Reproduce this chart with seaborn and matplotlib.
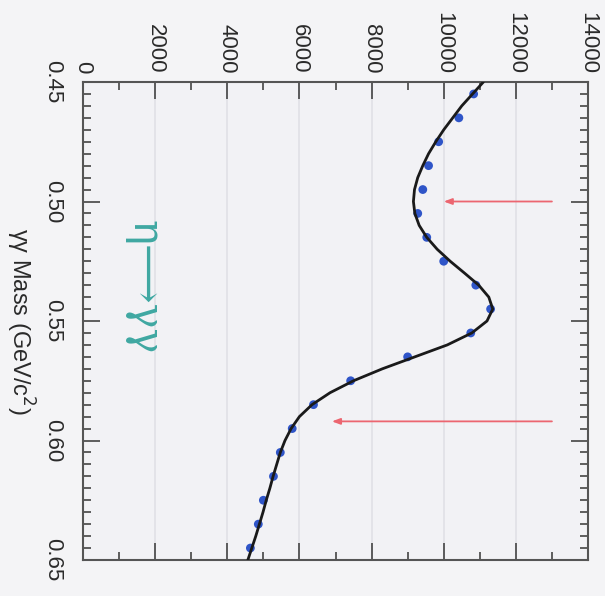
import matplotlib
matplotlib.use("Agg")
import matplotlib.pyplot as plt
from matplotlib.ticker import MultipleLocator
import numpy as np
import pandas as pd
import seaborn as sns

# ---- data ----
point_mass = [0.455, 0.465, 0.475, 0.485, 0.495, 0.505, 0.515, 0.525, 0.535, 0.545,
              0.555, 0.565, 0.575, 0.585, 0.595, 0.605, 0.615, 0.625, 0.635, 0.645]
point_counts = [10830, 10420, 9860, 9580, 9420, 9280, 9530, 10000, 10890, 11300,
                10750, 9000, 7420, 6390, 5800, 5470, 5280, 5000, 4860, 4640]

fit_mass = [0.450, 0.455, 0.460, 0.465, 0.470, 0.475, 0.480, 0.485, 0.490, 0.495,
            0.500, 0.505, 0.510, 0.515, 0.520, 0.525, 0.530, 0.535, 0.540, 0.545,
            0.550, 0.555, 0.560, 0.565, 0.570, 0.575, 0.580, 0.585, 0.590, 0.595,
            0.600, 0.605, 0.610, 0.615, 0.620, 0.625, 0.630, 0.635, 0.640, 0.645, 0.650]
fit_counts = [11100, 10800, 10500, 10250, 10000, 9780, 9580, 9420, 9280, 9190,
              9160, 9200, 9320, 9530, 9820, 10180, 10580, 10970, 11250, 11360,
              11200, 10780, 10100, 9200, 8300, 7500, 6850, 6350, 6000, 5770,
              5600, 5470, 5370, 5270, 5180, 5080, 4990, 4890, 4790, 4680, 4570]

arrow_mass = [0.500, 0.592]
arrow_tip = [10000, 6900]
arrow_tail = [13000, 13000]

count_ticks = [0, 2000, 4000, 6000, 8000, 10000, 12000, 14000]
mass_ticks = [0.45, 0.50, 0.55, 0.60, 0.65]
mass_labels = ["0.45", "0.50", "0.55", "0.60", "0.65"]

points = pd.DataFrame({"mass": point_mass, "counts": point_counts})
fit = pd.DataFrame({"mass": fit_mass, "counts": fit_counts})

sns.set_theme(style="ticks")
plt.rcParams["font.family"] = ["Liberation Sans", "DejaVu Sans"]

fig = plt.figure(figsize=(6.05, 5.96), dpi=100, facecolor="#f4f4f6")
ax = fig.add_axes([83 / 605, 1 - 560 / 596, (588 - 83) / 605, (560 - 82) / 596])
ax.set_facecolor("#f2f2f5")

for t in count_ticks[1:-1]:
    ax.axvline(t, color="#e0e1e6", lw=1.2, zorder=0)

sns.scatterplot(data=points, x="counts", y="mass", ax=ax, color="#2f55c8",
                s=40, edgecolor="none", zorder=3)
sns.lineplot(data=fit, x="counts", y="mass", ax=ax, sort=False, orient="y",
             color="#1a1a1a", lw=2.0, zorder=4)

for m, tip, tail in zip(arrow_mass, arrow_tip, arrow_tail):
    ax.annotate("", xy=(tip, m), xytext=(tail, m),
                arrowprops=dict(arrowstyle="-|>,head_length=0.4,head_width=0.15",
                                color="#ec6670", lw=1.3, shrinkA=0, shrinkB=0),
                zorder=5)

ax.text(1700, 0.536, "η⟶γγ", rotation=-90,
        ha="center", va="center", color="#3fa8a2", fontsize=30,
        family=["DejaVu Serif", "DejaVu Sans"])

ax.set_xlim(0, 14000)
ax.set_ylim(0.65, 0.45)
ax.xaxis.tick_top()
ax.set_xticks(count_ticks)
ax.set_xticklabels([str(t) for t in count_ticks], rotation=-90, ha="center", va="bottom",
                   fontsize=16, color="#2a2a2a")
ax.set_yticks(mass_ticks)
ax.set_yticklabels(mass_labels, rotation=-90, ha="right", va="center",
                   fontsize=16, color="#2a2a2a")
ax.xaxis.set_minor_locator(MultipleLocator(1000))
ax.yaxis.set_minor_locator(MultipleLocator(0.005))
ax.tick_params(which="both", direction="in", top=True, bottom=True, left=True, right=True,
               color="#444444", width=1.2)
ax.tick_params(which="major", length=12)
ax.tick_params(which="minor", length=6)
ax.tick_params(axis="x", which="both", pad=6, labelbottom=False, labeltop=True)
ax.tick_params(axis="y", which="both", pad=14)

ax.set_xlabel("")
ax.set_ylabel("γγ Mass (GeV/c$^2$)", rotation=-90, fontsize=17, color="#2a2a2a",
              labelpad=16, va="center")
for s in ax.spines.values():
    s.set_color("#555555")
    s.set_linewidth(1.5)

fig.savefig("out.png", dpi=100, facecolor=fig.get_facecolor())
